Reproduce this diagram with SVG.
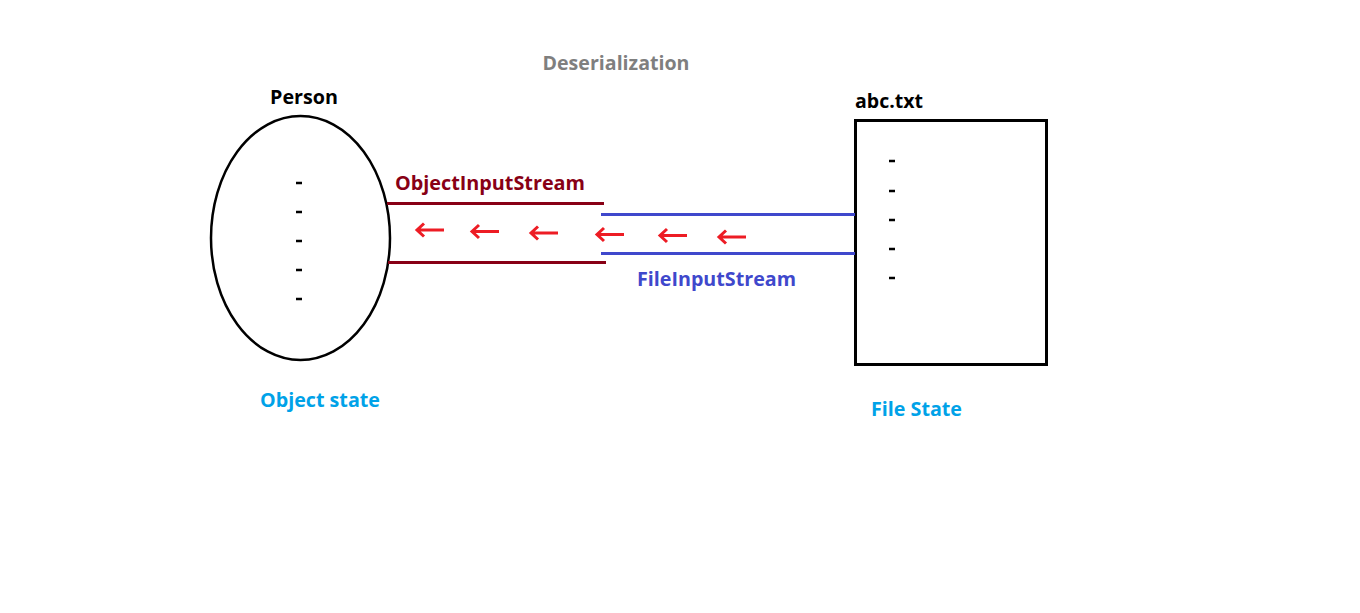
<svg xmlns="http://www.w3.org/2000/svg" width="1360" height="613" viewBox="0 0 1360 613">
<style>
text{font-family:"Open Sans","Noto Sans","Liberation Sans",sans-serif;font-weight:bold;font-size:19px}
.blk{fill:#000}
.dash{stroke:#000;stroke-width:2.5}
.arr{stroke:#ed1c24;stroke-width:3;fill:none}
</style>
<rect width="1360" height="613" fill="#fff"/>
<text x="616" y="70" text-anchor="middle" fill="#7f7f7f" textLength="147" lengthAdjust="spacingAndGlyphs">Deserialization</text>
<g id="person">
<text x="304" y="104" text-anchor="middle" class="blk" textLength="68" lengthAdjust="spacingAndGlyphs">Person</text>
<ellipse cx="300.5" cy="238" rx="89.5" ry="122" fill="none" stroke="#000" stroke-width="2.5"/>
<path class="dash" d="M296 183h6M296 212h6M296 241h6M296 270h6M296 299h6"/>
<text x="320" y="407" text-anchor="middle" fill="#00a2e8" textLength="120" lengthAdjust="spacingAndGlyphs">Object state</text>
</g>
<g id="file">
<text x="855" y="108" class="blk" textLength="68" lengthAdjust="spacingAndGlyphs">abc.txt</text>
<rect x="855.5" y="120.5" width="191" height="244" fill="none" stroke="#000" stroke-width="3"/>
<path class="dash" d="M889 161h6M889 191h6M889 220h6M889 249h6M889 278h6"/>
<text x="871" y="416" fill="#00a2e8" textLength="91" lengthAdjust="spacingAndGlyphs">File State</text>
</g>
<g id="connectors">
<g id="objectinputstream">
<path d="M387 203.5H604M388 262.5H606" stroke="#880015" stroke-width="3" fill="none"/>
<text x="395" y="190" fill="#880015" textLength="190" lengthAdjust="spacingAndGlyphs">ObjectInputStream</text>
</g>
<g id="fileinputstream">
<path d="M601 214.5H855M601 253.5H855" stroke="#3f48cc" stroke-width="3" fill="none"/>
<text x="637" y="286" fill="#3f48cc" textLength="159" lengthAdjust="spacingAndGlyphs">FileInputStream</text>
</g>
<g id="arrows" class="arr">
<path d="M444 230H417M424 223.5L417 230L424 236.5"/>
<path d="M499 231.5H472M479 225L472 231.5L479 238"/>
<path d="M558 233H531M538 226.5L531 233L538 239.5"/>
<path d="M624 234.5H597M604 228L597 234.5L604 241"/>
<path d="M687 235.5H660M667 229L660 235.5L667 242"/>
<path d="M746 237H719M726 230.5L719 237L726 243.5"/>
</g>
</g>
</svg>
